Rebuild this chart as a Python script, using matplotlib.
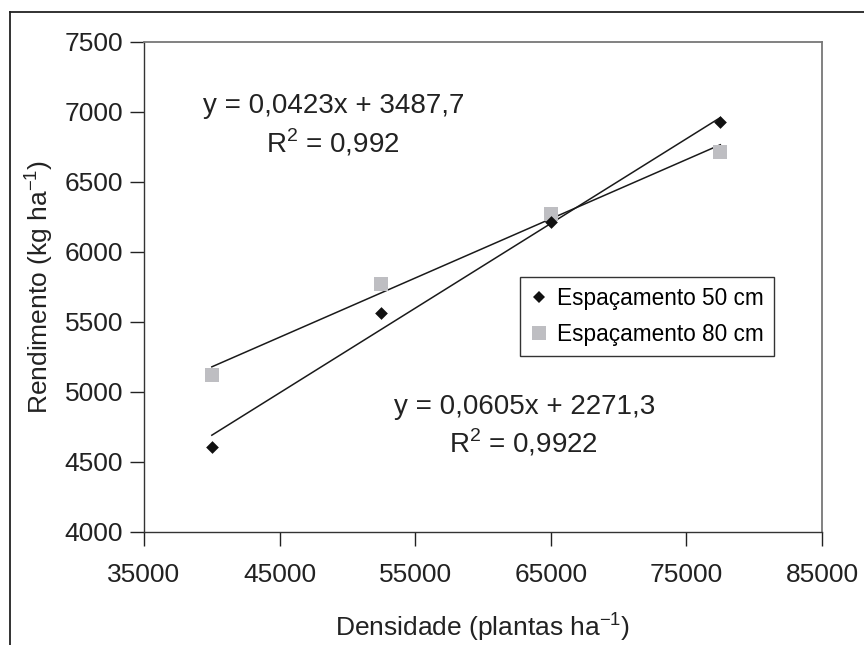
import matplotlib
matplotlib.use("Agg")
import matplotlib.pyplot as plt
from matplotlib.lines import Line2D
import numpy as np

plt.rcParams['font.family'] = ['Liberation Sans', 'DejaVu Sans']
plt.rcParams['mathtext.fontset'] = 'custom'
plt.rcParams['mathtext.rm'] = 'Liberation Sans'

# Plant density (plants per ha)
densidade = [40000, 52500, 65000, 77500]
# Grain yield (kg/ha) for each row spacing
rend_50cm = [4607, 5565, 6212, 6925]
rend_80cm = [5121, 5771, 6271, 6714]

# Linear fits shown on the chart
coef_50cm = (0.0605, 2271.3)
r2_50cm = "0,9922"
coef_80cm = (0.0423, 3487.7)
r2_80cm = "0,992"

yticks = [4000, 4500, 5000, 5500, 6000, 6500, 7000, 7500]
xticks = [35000, 45000, 55000, 65000, 75000, 85000]

fig = plt.figure(figsize=(8.64, 6.45), dpi=100)
ax = fig.add_axes([0.1667, 0.1752, 0.7847, 0.7597])

x = np.array(densidade, dtype=float)
xfit = np.array([x.min(), x.max()])

ax.plot(xfit, coef_50cm[0] * xfit + coef_50cm[1], color='#1a1a1a', lw=1.1, zorder=2)
ax.plot(xfit, coef_80cm[0] * xfit + coef_80cm[1], color='#1a1a1a', lw=1.1, zorder=2)

ax.scatter(densidade, rend_80cm, marker='s', s=110, color='#bebec2', linewidths=0,
           zorder=3, label='Espaçamento 80 cm')
ax.scatter(densidade, rend_50cm, marker='D', s=42, color='#111111', linewidths=0,
           zorder=4, label='Espaçamento 50 cm')

ax.set_xlim(35000, 85000)
ax.set_ylim(4000, 7500)
ax.set_xticks(xticks)
ax.set_yticks(yticks)
ax.set_xticklabels([str(v) for v in xticks])
ax.set_yticklabels([str(v) for v in yticks])
ax.tick_params(axis='both', direction='out', length=10, width=1.0,
               labelsize=19, colors='#222222', pad=5)
ax.tick_params(axis='x', pad=12)

for side in ['left', 'bottom']:
    ax.spines[side].set_color('#333333')
    ax.spines[side].set_linewidth(1.0)
for side in ['top', 'right']:
    ax.spines[side].set_color('#777777')
    ax.spines[side].set_linewidth(1.3)

ax.set_xlabel(r'Densidade (plantas ha$^{\mathregular{-1}}$)', fontsize=19, color='#222222', labelpad=17)
ax.set_ylabel(r'Rendimento (kg ha$^{\mathregular{-1}}$)', fontsize=19, color='#222222', labelpad=7)

ax.text(49000, 7045, "y = 0,0423x + 3487,7", fontsize=20, ha='center', va='center', color='#222222')
ax.text(48900, 6780, r"R$^{\mathregular{2}}$ = " + r2_80cm, fontsize=20, ha='center', va='center', color='#222222')
ax.text(63100, 4890, "y = 0,0605x + 2271,3", fontsize=20, ha='center', va='center', color='#222222')
ax.text(63000, 4640, r"R$^{\mathregular{2}}$ = " + r2_50cm, fontsize=20, ha='center', va='center', color='#222222')

handles = [
    Line2D([], [], marker='D', linestyle='none', markersize=6, color='#111111', markeredgewidth=0),
    Line2D([], [], marker='s', linestyle='none', markersize=10, color='#bebec2', markeredgewidth=0),
]
leg = ax.legend(handles, ['Espaçamento 50 cm', 'Espaçamento 80 cm'],
                loc='upper left', bbox_to_anchor=(0.5546, 0.5204), borderaxespad=0,
                fontsize=16.3, frameon=True, fancybox=False, edgecolor='#333333', framealpha=1,
                handlelength=0.8, handletextpad=0.4, borderpad=0.45, labelspacing=0.55)
leg.get_frame().set_linewidth(1.0)

# Outer frame of the figure (top and left edges)
fig.add_artist(Line2D([10 / 864, 1.0], [1 - 12 / 645, 1 - 12 / 645], color='#222222', lw=1.3,
                      transform=fig.transFigure))
fig.add_artist(Line2D([10 / 864, 10 / 864], [1 - 12 / 645, 0.0], color='#222222', lw=1.3,
                      transform=fig.transFigure))

fig.savefig('out.png', dpi=100)
